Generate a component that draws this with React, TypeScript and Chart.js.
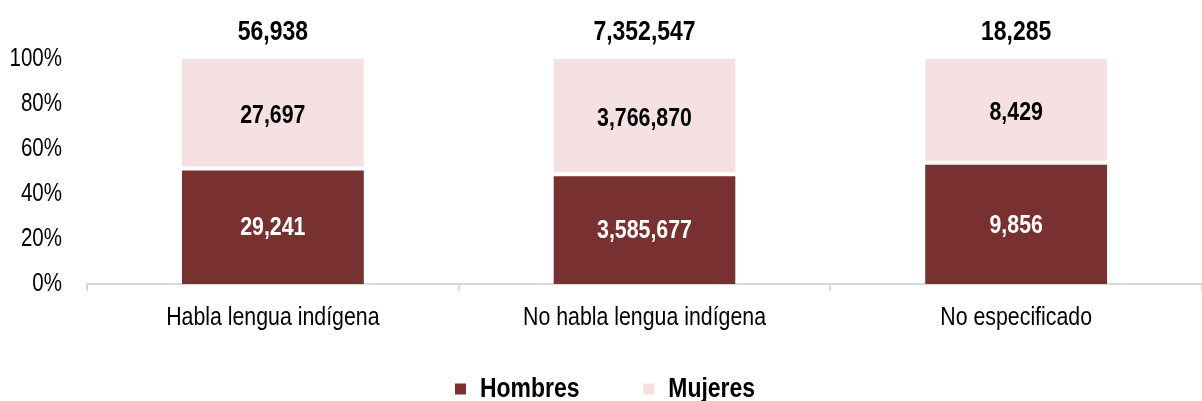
import React, { useEffect, useRef } from "react";
import { Chart, registerables } from "chart.js";

Chart.register(...registerables);

const categories = ["Habla lengua indígena", "No habla lengua indígena", "No especificado"];
const seriesNames = ["Hombres", "Mujeres"];
const hombres = [29241, 3585677, 9856];
const mujeres = [27697, 3766870, 8429];
const totals = [56938, 7352547, 18285];
const yTicks = [0, 20, 40, 60, 80, 100];

const FONT = "'Liberation Sans', Arial, sans-serif";
const MAROON = "#783130";
const PINK = "#F5E1E1";
const NARROW = 0.82;

const fmt = (v: number) => v.toLocaleString("en-US");

// Emulate a narrow (condensed) face: squeeze every text horizontally.
function makeNarrow(ctx: CanvasRenderingContext2D) {
  const origFill = ctx.fillText.bind(ctx);
  const origMeasure = ctx.measureText.bind(ctx);
  (ctx as any).fillText = (t: string, x: number, y: number) => {
    ctx.save();
    ctx.translate(x, y);
    ctx.scale(NARROW, 1);
    origFill(t, 0, 0);
    ctx.restore();
  };
  (ctx as any).measureText = (t: string) => {
    const m = origMeasure(t);
    return {
      width: m.width * NARROW,
      actualBoundingBoxAscent: m.actualBoundingBoxAscent,
      actualBoundingBoxDescent: m.actualBoundingBoxDescent,
      actualBoundingBoxLeft: m.actualBoundingBoxLeft * NARROW,
      actualBoundingBoxRight: m.actualBoundingBoxRight * NARROW,
      fontBoundingBoxAscent: m.fontBoundingBoxAscent,
      fontBoundingBoxDescent: m.fontBoundingBoxDescent,
    };
  };
}

export default function App() {
  const ref = useRef<HTMLCanvasElement | null>(null);

  useEffect(() => {
    document.body.style.margin = "0";
    const canvas = ref.current;
    if (!canvas) return;
    const context = canvas.getContext("2d");
    if (!context) return;
    makeNarrow(context);

    const pctH = hombres.map((h, i) => (h / (h + mujeres[i])) * 100);
    const pctM = mujeres.map((m, i) => (m / (hombres[i] + m)) * 100);

    const labelsPlugin = {
      id: "valueLabels",
      afterDatasetsDraw(chart: any) {
        const ctx = chart.ctx as CanvasRenderingContext2D;
        ctx.save();
        ctx.textAlign = "center";
        ctx.textBaseline = "middle";
        ctx.font = `bold 26px ${FONT}`;
        const raw = [hombres, mujeres];
        chart.data.datasets.forEach((_ds: any, di: number) => {
          const meta = chart.getDatasetMeta(di);
          meta.data.forEach((el: any, i: number) => {
            const { x, y, base } = el.getProps(["x", "y", "base"], true);
            ctx.fillStyle = di === 0 ? "#ffffff" : "#000000";
            ctx.fillText(fmt(raw[di][i]), x, (y + base) / 2 + 2);
          });
        });
        ctx.font = `bold 28px ${FONT}`;
        ctx.fillStyle = "#000000";
        const top = chart.getDatasetMeta(1);
        top.data.forEach((el: any, i: number) => {
          const { x, y } = el.getProps(["x", "y"], true);
          ctx.fillText(fmt(totals[i]), x, y - 27);
        });
        ctx.restore();
      },
    };

    const chart = new Chart(context, {
      type: "bar",
      data: {
        labels: categories,
        datasets: [
          {
            label: seriesNames[0],
            data: pctH,
            backgroundColor: MAROON,
            borderColor: "#ffffff",
            borderWidth: { top: 2, bottom: 0, left: 0, right: 0 },
            borderSkipped: false,
            barPercentage: 0.49,
            categoryPercentage: 1,
          },
          {
            label: seriesNames[1],
            data: pctM,
            backgroundColor: PINK,
            borderColor: "#ffffff",
            borderWidth: { top: 0, bottom: 2, left: 0, right: 0 },
            borderSkipped: false,
            barPercentage: 0.49,
            categoryPercentage: 1,
          },
        ],
      },
      options: {
        animation: false,
        responsive: true,
        maintainAspectRatio: false,
        layout: { padding: { top: 59, left: 8, right: 0, bottom: -12 } },
        plugins: {
          legend: {
            position: "bottom",
            labels: {
              boxWidth: 11,
              boxHeight: 11,
              padding: 0,
              color: "#000000",
              font: { family: FONT, size: 28, weight: "bold" },
              generateLabels: (chart: any) => {
                const base = Chart.defaults.plugins.legend.labels.generateLabels(chart);
                return base.map((item: any, i: number) => ({
                  ...item,
                  text: i === 0 ? item.text + "\u00A0".repeat(10) : item.text,
                  lineWidth: 0,
                }));
              },
            },
          },
          tooltip: { enabled: false },
        },
        scales: {
          x: {
            stacked: true,
            afterFit: (scale: any) => {
              scale.height = 91;
            },
            grid: {
              display: true,
              offset: true,
              drawOnChartArea: false,
              drawTicks: true,
              tickLength: 7,
              color: "#d9d9d9",
              lineWidth: 2,
            },
            border: { display: true, color: "#d9d9d9", width: 2 },
            ticks: {
              color: "#000000",
              font: { family: FONT, size: 26 },
              padding: 11,
              maxRotation: 0,
              autoSkip: false,
            },
          },
          y: {
            stacked: true,
            min: 0,
            max: 100,
            afterFit: (scale: any) => {
              scale.width = 79;
            },
            afterBuildTicks: (axis: any) => {
              axis.ticks = yTicks.map((v) => ({ value: v }));
            },
            grid: { display: false, drawTicks: false },
            border: { display: false },
            ticks: {
              color: "#000000",
              font: { family: FONT, size: 25 },
              padding: 25,
              callback: (v: any) => `${v}%`,
            },
          },
        },
      },
      plugins: [labelsPlugin],
    });
    return () => chart.destroy();
  }, []);

  return (
    <div style={{ width: 1202, height: 401, position: "relative" }}>
      <canvas ref={ref} />
    </div>
  );
}
